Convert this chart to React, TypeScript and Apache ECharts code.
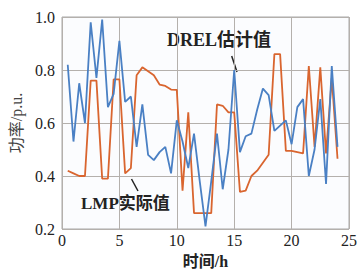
import React, { useEffect, useRef } from "react";
import * as echarts from "echarts";

const hours = [
  0.5, 1, 1.5, 2, 2.5, 3, 3.5, 4, 4.5, 5, 5.5, 6, 6.5, 7, 7.5, 8, 8.5, 9, 9.5, 10, 10.5, 11, 11.5, 12,
  12.5, 13, 13.5, 14, 14.5, 15, 15.5, 16, 16.5, 17, 17.5, 18, 18.5, 19, 19.5, 20, 20.5, 21, 21.5, 22,
  22.5, 23, 23.5, 24,
];

const drelEstimate = [
  0.82, 0.53, 0.75, 0.6, 0.98, 0.77, 0.99, 0.66, 0.71, 0.91, 0.68, 0.7, 0.51, 0.67, 0.48, 0.46, 0.49,
  0.51, 0.41, 0.61, 0.53, 0.43, 0.56, 0.38, 0.21, 0.38, 0.56, 0.35, 0.5, 0.8, 0.49, 0.55, 0.56, 0.65,
  0.73, 0.705, 0.57, 0.59, 0.61, 0.52, 0.66, 0.69, 0.4, 0.5, 0.69, 0.37, 0.815, 0.51,
];

const lmpActual = [
  0.42, 0.41, 0.4, 0.4, 0.76, 0.76, 0.39, 0.39, 0.765, 0.765, 0.41, 0.43, 0.78, 0.81, 0.795, 0.78,
  0.745, 0.74, 0.726, 0.725, 0.345, 0.64, 0.26, 0.26, 0.26, 0.26, 0.67, 0.665, 0.64, 0.64, 0.34, 0.345,
  0.4, 0.42, 0.45, 0.48, 0.86, 0.86, 0.495, 0.495, 0.49, 0.485, 0.815, 0.51, 0.81, 0.485, 0.77, 0.465,
];

const xTicks = [0, 5, 10, 15, 20, 25];
const yTicks = [0.2, 0.4, 0.6, 0.8, 1.0];

const SERIF = "'Liberation Serif', 'Noto Sans CJK SC', serif";

export default function App() {
  const ref = useRef<HTMLDivElement>(null);
  useEffect(() => {
    if (!ref.current) return;
    const chart = echarts.init(ref.current, undefined, { renderer: "svg" });
    const pair = (vals: number[]) => hours.map((h, i) => [h, vals[i]]);
    chart.setOption({
      animation: false,
      backgroundColor: "#ffffff",
      grid: {
        left: 62,
        right: 7,
        top: 17,
        bottom: 40,
        show: true,
        borderColor: "#a8a8a8",
        borderWidth: 1,
        backgroundColor: "#fbfcfe",
      },
      xAxis: {
        type: "value",
        min: xTicks[0],
        max: xTicks[xTicks.length - 1],
        interval: 5,
        name: "时间/h",
        nameLocation: "middle",
        nameGap: 24,
        nameTextStyle: { fontFamily: SERIF, fontSize: 16, fontWeight: "bold", color: "#222" },
        axisLine: { show: false },
        axisTick: { show: false },
        axisLabel: { fontFamily: SERIF, fontSize: 16, color: "#222", margin: 3 },
        splitLine: { show: true, lineStyle: { color: "#b4b0ac", width: 1 } },
      },
      yAxis: {
        type: "value",
        min: yTicks[0],
        max: yTicks[yTicks.length - 1],
        interval: 0.2,
        name: "功率/p.u.",
        nameLocation: "middle",
        nameGap: 38,
        nameTextStyle: { fontFamily: SERIF, fontSize: 16, color: "#444" },
        axisLine: { show: false },
        axisTick: { show: false },
        axisLabel: {
          fontFamily: SERIF,
          fontSize: 16,
          color: "#222",
          margin: 7,
          formatter: (v: number) => v.toFixed(1),
        },
        splitLine: { show: true, lineStyle: { color: "#b4b0ac", width: 1 } },
      },
      series: [
        {
          name: "LMP实际值",
          type: "line",
          data: pair(lmpActual),
          showSymbol: false,
          lineStyle: { color: "#d9652f", width: 1.8 },
          itemStyle: { color: "#d9652f" },
        },
        {
          name: "DREL估计值",
          type: "line",
          data: pair(drelEstimate),
          showSymbol: false,
          lineStyle: { color: "#4a80c4", width: 1.8 },
          itemStyle: { color: "#4a80c4" },
        },
      ],
      graphic: [
        {
          type: "text",
          left: 167,
          top: 31,
          style: {
            text: "DREL估计值",
            font: "bold 18px 'Liberation Serif', 'Noto Sans CJK SC', serif",
            fill: "#222",
          },
        },
        {
          type: "line",
          shape: { x1: 231.7, y1: 56, x2: 237, y2: 72 },
          style: { stroke: "#222", lineWidth: 1.5 },
        },
        {
          type: "text",
          left: 81,
          top: 195,
          style: {
            text: "LMP实际值",
            font: "bold 17px 'Liberation Serif', 'Noto Sans CJK SC', serif",
            fill: "#222",
          },
        },
        {
          type: "line",
          shape: { x1: 131.5, y1: 179, x2: 138, y2: 191 },
          style: { stroke: "#222", lineWidth: 1.5 },
        },
      ],
    });
    return () => chart.dispose();
  }, []);
  return (
    <div
      ref={ref}
      style={{ position: "fixed", left: 0, top: 0, width: 360, height: 274 }}
    />
  );
}
